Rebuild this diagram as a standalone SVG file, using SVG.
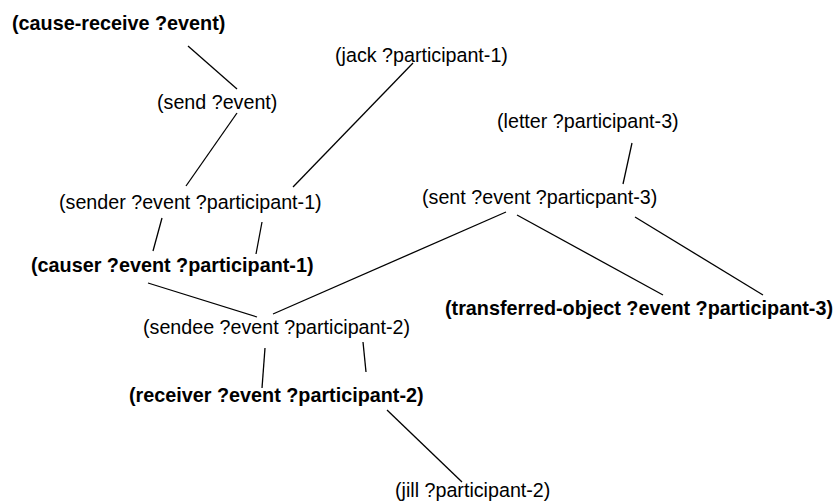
<svg xmlns="http://www.w3.org/2000/svg" width="837" height="502" viewBox="0 0 837 502">
  <style>
    text { font-family: "Liberation Sans", Arial, Helvetica, sans-serif; font-size: 19.7px; fill: #000; }
    .bold { font-weight: bold; font-size: 19.8px; }
    .edge { stroke: #000; stroke-width: 1.3; fill: none; stroke-linecap: butt; }
  </style>
  <rect width="837" height="502" fill="#fff"/>

  <g id="connectors">
    <line class="edge" x1="188" y1="46" x2="237" y2="89"/>
    <line class="edge" x1="237" y1="113" x2="186" y2="186"/>
    <line class="edge" x1="413" y1="63" x2="293" y2="187"/>
    <line class="edge" x1="162" y1="218" x2="153" y2="251"/>
    <line class="edge" x1="262" y1="222" x2="256" y2="254"/>
    <line class="edge" x1="148" y1="283" x2="257" y2="317"/>
    <line class="edge" x1="506" y1="212" x2="273" y2="314"/>
    <line class="edge" x1="632" y1="143" x2="623" y2="184"/>
    <line class="edge" x1="517" y1="215" x2="663" y2="295"/>
    <line class="edge" x1="635" y1="217" x2="763" y2="295"/>
    <line class="edge" x1="265" y1="348" x2="262" y2="388"/>
    <line class="edge" x1="363" y1="342" x2="366" y2="372"/>
    <line class="edge" x1="387" y1="410" x2="462" y2="482"/>
  </g>

  <g id="cause-receive"><text class="bold" x="12" y="30">(cause-receive ?event)</text></g>
  <g id="jack"><text x="335" y="62">(jack ?participant-1)</text></g>
  <g id="send"><text x="157" y="109">(send ?event)</text></g>
  <g id="letter"><text x="497" y="128">(letter ?participant-3)</text></g>
  <g id="sent"><text x="422" y="204">(sent ?event ?particpant-3)</text></g>
  <g id="sender"><text x="59" y="209">(sender ?event ?participant-1)</text></g>
  <g id="causer"><text class="bold" x="31" y="272">(causer ?event ?participant-1)</text></g>
  <g id="transferred-object"><text class="bold" x="445" y="315">(transferred-object ?event ?participant-3)</text></g>
  <g id="sendee"><text x="143" y="334">(sendee ?event ?participant-2)</text></g>
  <g id="receiver"><text class="bold" x="129" y="402">(receiver ?event ?participant-2)</text></g>
  <g id="jill"><text x="395" y="497">(jill ?participant-2)</text></g>
</svg>
